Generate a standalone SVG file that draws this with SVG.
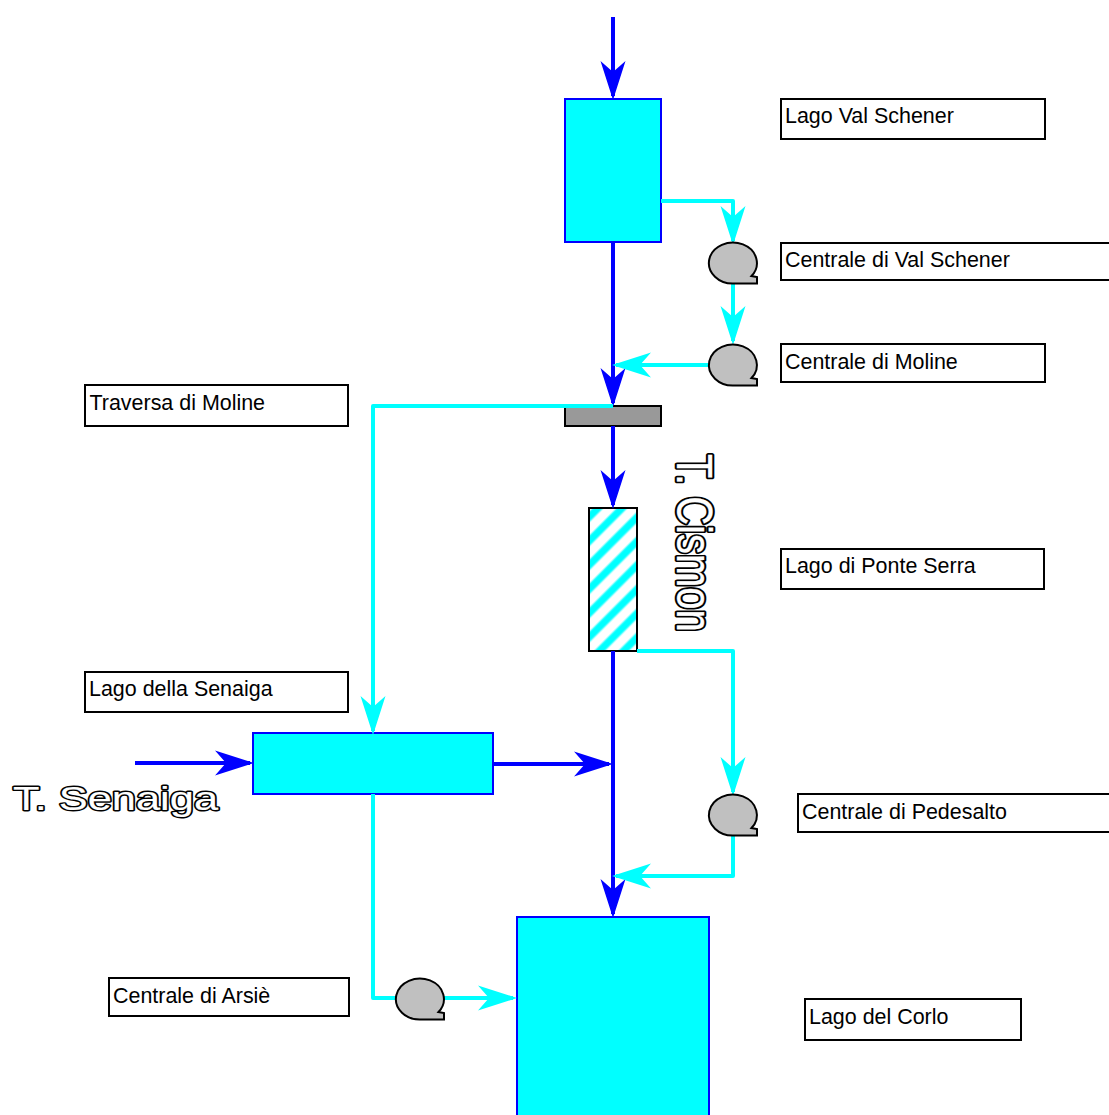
<svg xmlns="http://www.w3.org/2000/svg" width="1109" height="1115" viewBox="0 0 1109 1115">
<style>
.lake{fill:#00ffff;stroke:#0000ff;stroke-width:2}
.box{fill:#fff;stroke:#000;stroke-width:2}
.lbl{font-family:"Liberation Sans",Arial,sans-serif;font-size:21.45px;fill:#000}
.big{font-family:"Liberation Sans",Arial,sans-serif;font-size:40px}
.ko{fill:#000;stroke:#000;stroke-width:3.6px;stroke-linejoin:round}
.wo{fill:#fff;stroke:#fff;stroke-width:0.2px}
.blue{fill:none;stroke:#0000ff;stroke-width:4;marker-end:url(#ab)}
.cyan{fill:none;stroke:#00ffff;stroke-width:4;stroke-linejoin:round;marker-end:url(#ac)}
.turb{fill:#c0c0c0;stroke:#000;stroke-width:2}
</style>
<defs>
<text id="cismon-text" class="big">T. Cismon</text>
<text id="senaiga-text" class="big">T. Senaiga</text>
<marker id="ab" markerUnits="userSpaceOnUse" markerWidth="40" markerHeight="28" refX="35" refY="13" orient="auto" overflow="visible"><path d="M0,0.5 L39,13 L0,25.5 L11,13Z" fill="#0000ff"/></marker>
<marker id="ac" markerUnits="userSpaceOnUse" markerWidth="40" markerHeight="28" refX="35" refY="13" orient="auto" overflow="visible"><path d="M0,0.5 L39,13 L0,25.5 L11,13Z" fill="#00ffff"/></marker>
<pattern id="hatch" patternUnits="userSpaceOnUse" width="17" height="17" patternTransform="translate(589,508) rotate(-45)"><rect width="17" height="17" fill="#fff"/><rect width="17" height="9" y="2" fill="#a8ffff"/><rect width="17" height="6.5" y="3.25" fill="#00ffff"/></pattern>
<path id="t" d="M0,20.5 H22.5 V14 L17,13 A24,20.5 0 1 0 0,20.5Z"/>
</defs>

<g id="lago-val-schener-shape"><rect class="lake" x="565" y="99" width="96" height="143"/></g>
<g id="traversa-shape"><rect x="565" y="406" width="96" height="20" fill="#999" stroke="#000" stroke-width="2"/></g>
<g id="ponte-serra-shape"><rect x="589" y="508" width="48" height="143" fill="url(#hatch)" stroke="#000" stroke-width="2"/></g>
<g id="senaiga-shape"><rect class="lake" x="253" y="733" width="240" height="61"/></g>
<g id="corlo-shape"><rect class="lake" x="517" y="917" width="192" height="210"/></g>

<g id="connectors">
<path class="blue" d="M613,17 V96"/>
<path class="blue" d="M613,243 V403"/>
<path class="blue" d="M613,426 V505"/>
<path class="blue" d="M613,651 V914"/>
<path class="blue" d="M493,764 H609"/>
<path class="blue" d="M135,763 H250"/>
<path class="cyan" d="M661,201 H733 V241"/>
<path class="cyan" d="M733,283 V341"/>
<path class="cyan" d="M709,365 H616"/>
<path class="cyan" d="M613,406 H373 V731"/>
<path class="cyan" d="M637,651 H733 V792"/>
<path class="cyan" d="M733,835 V876 H616"/>
<path class="cyan" d="M373,794 V998 H513"/>
</g>

<g id="turbina-val-schener"><use href="#t" class="turb" x="734.5" y="263"/></g>
<g id="turbina-moline"><use href="#t" class="turb" x="734.5" y="365"/></g>
<g id="turbina-pedesalto"><use href="#t" class="turb" x="734.5" y="815"/></g>
<g id="turbina-arsie"><use href="#t" class="turb" x="421.5" y="999"/></g>

<g id="label-val-schener"><rect class="box" x="781" y="99" width="264" height="40"/><text class="lbl" x="785" y="123">Lago Val Schener</text></g>
<g id="label-centrale-val-schener"><rect class="box" x="781" y="243" width="340" height="37"/><text class="lbl" x="785" y="267">Centrale di Val Schener</text></g>
<g id="label-moline"><rect class="box" x="781" y="344" width="264" height="38"/><text class="lbl" x="785" y="369">Centrale di Moline</text></g>
<g id="label-traversa"><rect class="box" x="85" y="385" width="263" height="41"/><text class="lbl" x="89.5" y="410">Traversa di Moline</text></g>
<g id="label-ponte-serra"><rect class="box" x="781" y="549" width="263" height="40"/><text class="lbl" x="785" y="573">Lago di Ponte Serra</text></g>
<g id="label-senaiga"><rect class="box" x="85" y="672" width="263" height="40"/><text class="lbl" x="89" y="696">Lago della Senaiga</text></g>
<g id="label-pedesalto"><rect class="box" x="798" y="794" width="323" height="38"/><text class="lbl" x="802" y="819">Centrale di Pedesalto</text></g>
<g id="label-arsie"><rect class="box" x="109" y="978" width="240" height="38"/><text class="lbl" x="113" y="1003">Centrale di Arsiè</text></g>
<g id="label-corlo"><rect class="box" x="805" y="999" width="216" height="41"/><text class="lbl" x="809" y="1024">Lago del Corlo</text></g>

<g id="label-cismon" opacity="0.999" transform="translate(677,454) rotate(90) scale(1,1.25)"><use href="#cismon-text" class="ko"/><use href="#cismon-text" class="wo"/></g>
<g id="label-t-senaiga" opacity="0.999" transform="translate(13,810) scale(1.085,0.85)"><use href="#senaiga-text" class="ko"/><use href="#senaiga-text" class="wo"/></g>
</svg>
